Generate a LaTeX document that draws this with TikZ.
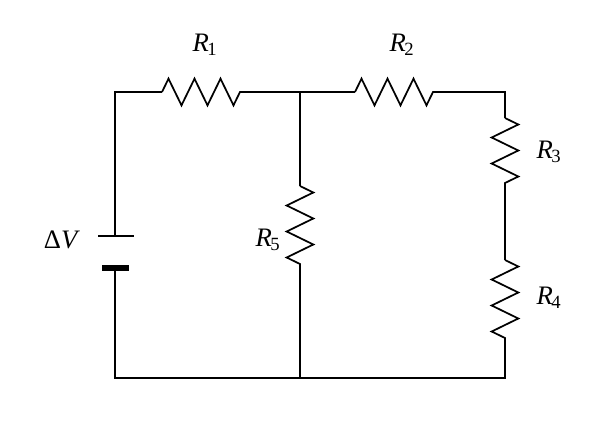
\documentclass[tikz,border=0pt]{standalone}
\usepackage{fontspec}
\setmainfont{Liberation Serif}
\usetikzlibrary{decorations.pathmorphing}
\newcommand{\lbl}[2]{\textit{#1}\textsubscript{\kern-1pt#2}}
\begin{document}
\begin{tikzpicture}[x=0.75pt,y=-0.75pt,line width=1.4pt,
  res/.style={line width=1.3pt,decorate,decoration={zigzag,segment length=19.5pt,amplitude=10pt,pre length=0pt,post length=0pt}},
  lab/.style={font=\fontsize{20}{22}\selectfont}]
\useasboundingbox (0,0) rectangle (615,426);
\coordinate (tl) at (115,92); \coordinate (tm) at (300,92); \coordinate (tr) at (505,92);
\coordinate (bl) at (115,378); \coordinate (bm) at (300,378); \coordinate (br) at (505,378);
\coordinate (bp) at (115,236); \coordinate (bn) at (115,268);
\coordinate (a1) at (162,92); \coordinate (b1) at (246,92);
\coordinate (a2) at (355,92); \coordinate (b2) at (439,92);
\coordinate (a3) at (505,118); \coordinate (b3) at (505,194);
\coordinate (a4) at (505,260); \coordinate (b4) at (505,344);
\coordinate (a5) at (300,186); \coordinate (b5) at (300,270);
\draw (bp) -- (tl) -- (a1);
\draw[res] (a1) -- (b1);
\draw (b1) -- (tm) -- (a2);
\draw[res] (a2) -- (b2);
\draw (b2) -- (tr) -- (a3);
\draw[res] (a3) -- (b3);
\draw (b3) -- (a4);
\draw[res] (a4) -- (b4);
\draw (b4) -- (br) -- (bl) -- (bn);
\draw (tm) -- (a5);
\draw[res] (a5) -- (b5);
\draw (b5) -- (bm);
\draw (98,236) -- (134,236);
\draw[line width=4pt] (102,268) -- (129,268);
\node[lab] (r1) at (205,45) {\lbl{R}{1}};
\node[lab] (r2) at (402,45) {\lbl{R}{2}};
\node[lab] (r3) at (549,152) {\lbl{R}{3}};
\node[lab] (r4) at (549,298) {\lbl{R}{4}};
\node[lab] (r5) at (268,240) {\lbl{R}{5}};
\node[lab] (dv) at (62,240) {Δ\textit{V}};
\end{tikzpicture}
\end{document}
